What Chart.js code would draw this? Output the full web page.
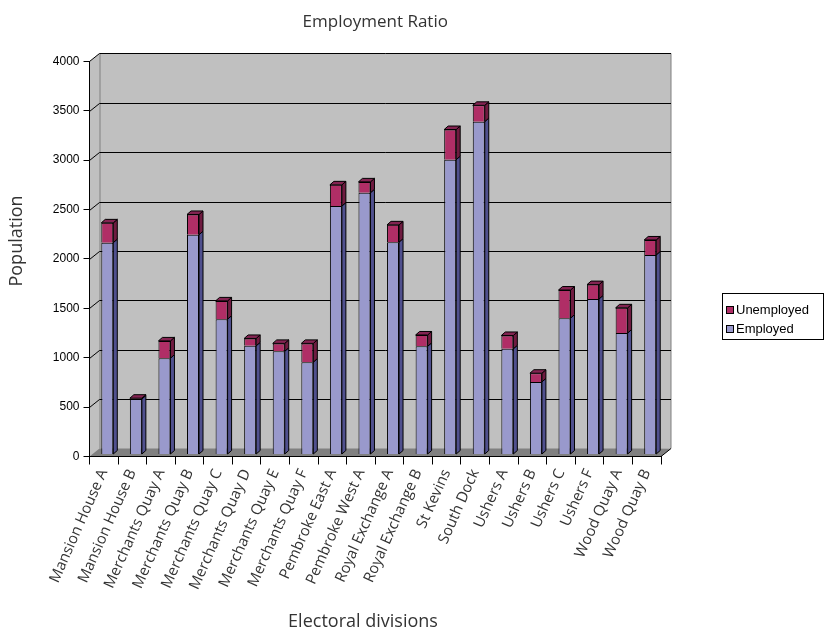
<!DOCTYPE html>
<html>
<head>
<meta charset="utf-8">
<title>Employment Ratio</title>
<script src="https://cdn.jsdelivr.net/npm/chart.js@4.4.0/dist/chart.umd.min.js"></script>
<style>
  html, body { margin: 0; padding: 0; background: #fff; }
  #wrap { width: 826px; height: 641px; }
</style>
</head>
<body>
<div id="wrap"><canvas id="chart" width="826" height="641"></canvas></div>
<script>
const divisions = [
  "Mansion House A", "Mansion House B", "Merchants Quay A", "Merchants Quay B",
  "Merchants Quay C", "Merchants Quay D", "Merchants Quay E", "Merchants Quay F",
  "Pembroke East A", "Pembroke West A", "Royal Exchange A", "Royal Exchange B",
  "St Kevins", "South Dock", "Ushers A", "Ushers B", "Ushers C", "Ushers F",
  "Wood Quay A", "Wood Quay B"
];
const employed = [2145, 562, 975, 2225, 1370, 1100, 1045, 935, 2515, 2650,
                  2150, 1095, 2985, 3370, 1070, 735, 1380, 1575, 1230, 2020];
const unemployed = [200, 8, 175, 205, 185, 75, 80, 190, 215, 110,
                    175, 115, 305, 165, 135, 88, 285, 145, 255, 152];
const popTicks = [0, 500, 1000, 1500, 2000, 2500, 3000, 3500, 4000];

// depth of the back wall and of each column (px)
const WALL_DX = 10, WALL_DY = -8;
const BAR_DX = 4, BAR_DY = -3.5;
const BAR_SHIFT_X = 3.5, BAR_SHIFT_Y = -2;

const colors = {
  employed: { front: "#9999cc", side: "#50508e", top: "#6e6eaa" },
  unemployed: { front: "#b02e66", side: "#6f1b40", top: "#842452" }
};

const room3d = {
  id: "room3d",
  beforeDraw(chart) {
    const ctx = chart.ctx;
    const a = chart.chartArea;
    const y = chart.scales.y;
    const l = a.left, r = a.right, b = a.bottom, t = a.top;
    ctx.save();
    // back wall and left side wall
    ctx.fillStyle = "#c0c0c0";
    ctx.beginPath();
    ctx.moveTo(l, t);
    ctx.lineTo(l + WALL_DX, t + WALL_DY);
    ctx.lineTo(r + WALL_DX, t + WALL_DY);
    ctx.lineTo(r + WALL_DX, b + WALL_DY);
    ctx.lineTo(l, b);
    ctx.closePath();
    ctx.fill();
    // floor
    ctx.fillStyle = "#808080";
    ctx.beginPath();
    ctx.moveTo(l, b);
    ctx.lineTo(l + WALL_DX, b + WALL_DY);
    ctx.lineTo(r + WALL_DX, b + WALL_DY);
    ctx.lineTo(r, b);
    ctx.closePath();
    ctx.fill();
    // wall edges
    ctx.strokeStyle = "#808080";
    ctx.lineWidth = 1;
    ctx.beginPath();
    ctx.moveTo(l + WALL_DX + 0.5, t + WALL_DY);
    ctx.lineTo(l + WALL_DX + 0.5, b + WALL_DY);
    ctx.moveTo(r + WALL_DX, t + WALL_DY);
    ctx.lineTo(r + WALL_DX, b + WALL_DY);
    ctx.stroke();
    // front edge of the floor on the right
    ctx.strokeStyle = "#000";
    ctx.beginPath();
    ctx.moveTo(r, b);
    ctx.lineTo(r + WALL_DX, b + WALL_DY);
    ctx.stroke();
    // gridlines across the side wall and back wall
    ctx.strokeStyle = "#000";
    for (const tk of y.ticks) {
      if (tk.value === 0) continue;
      const py = Math.round(y.getPixelForValue(tk.value)) + 0.5;
      ctx.beginPath();
      ctx.moveTo(l, py);
      ctx.lineTo(l + WALL_DX, py + WALL_DY);
      ctx.lineTo(r + WALL_DX, py + WALL_DY);
      ctx.stroke();
    }
    ctx.restore();
  },
  beforeDatasetsDraw(chart) {
    chart.ctx.save();
    chart.ctx.translate(BAR_SHIFT_X, BAR_SHIFT_Y);
  },
  afterDatasetsDraw(chart) {
    const ctx = chart.ctx;
    const last = chart.data.datasets.length - 1;
    chart.data.datasets.forEach((ds, di) => {
      const meta = chart.getDatasetMeta(di);
      meta.data.forEach(bar => {
        const p = bar.getProps(["x", "y", "base", "width"], true);
        const x1 = p.x + p.width / 2, x0 = p.x - p.width / 2;
        ctx.strokeStyle = "#000";
        ctx.lineWidth = 1;
        ctx.fillStyle = ds.sideColor;
        ctx.beginPath();
        ctx.moveTo(x1, p.y);
        ctx.lineTo(x1 + BAR_DX, p.y + BAR_DY);
        ctx.lineTo(x1 + BAR_DX, p.base + BAR_DY);
        ctx.lineTo(x1, p.base);
        ctx.closePath();
        ctx.fill();
        ctx.stroke();
        if (di === last) {
          ctx.fillStyle = ds.topColor;
          ctx.beginPath();
          ctx.moveTo(x0, p.y);
          ctx.lineTo(x0 + BAR_DX, p.y + BAR_DY);
          ctx.lineTo(x1 + BAR_DX, p.y + BAR_DY);
          ctx.lineTo(x1, p.y);
          ctx.closePath();
          ctx.fill();
          ctx.stroke();
        }
      });
    });
    ctx.restore();
  },
  afterDraw(chart) {
    const ctx = chart.ctx;
    ctx.save();
    // axis titles
    ctx.fillStyle = "#333";
    ctx.font = "18px 'Open Sans'";
    ctx.textAlign = "center";
    ctx.textBaseline = "middle";
    ctx.fillText("Electoral divisions", 363, 622);
    ctx.translate(17, 241);
    ctx.rotate(-Math.PI / 2);
    ctx.fillText("Population", 0, 0);
    ctx.restore();

    // legend box, top series listed first
    ctx.save();
    ctx.strokeStyle = "#000";
    ctx.lineWidth = 1;
    ctx.strokeRect(722.5, 293.5, 101, 46);
    ctx.font = "13px 'Liberation Sans'";
    ctx.textAlign = "left";
    ctx.textBaseline = "middle";
    const items = chart.data.datasets.slice().reverse();
    items.forEach((ds, i) => {
      const cy = 310 + i * 19;
      ctx.fillStyle = ds.backgroundColor;
      ctx.fillRect(726.5, cy - 3.5, 7, 7);
      ctx.strokeRect(726.5, cy - 3.5, 7, 7);
      ctx.fillStyle = "#000";
      ctx.fillText(ds.label, 736, cy);
    });
    ctx.restore();
  }
};

new Chart(document.getElementById("chart"), {
  type: "bar",
  data: {
    labels: divisions,
    datasets: [
      {
        label: "Employed",
        data: employed,
        backgroundColor: colors.employed.front,
        sideColor: colors.employed.side,
        topColor: colors.employed.top,
        borderColor: "#000",
        borderWidth: 1,
        categoryPercentage: 0.42,
        barPercentage: 1
      },
      {
        label: "Unemployed",
        data: unemployed,
        backgroundColor: colors.unemployed.front,
        sideColor: colors.unemployed.side,
        topColor: colors.unemployed.top,
        borderColor: "#000",
        borderWidth: 1,
        categoryPercentage: 0.42,
        barPercentage: 1
      }
    ]
  },
  options: {
    responsive: false,
    animation: false,
    events: [],
    layout: { padding: { left: 0, right: 165, top: 0, bottom: 0 } },
    plugins: {
      legend: { display: false },
      tooltip: { enabled: false },
      title: {
        display: true,
        text: "Employment Ratio",
        fullSize: false,
        color: "#333",
        font: { family: "'Open Sans'", size: 17, weight: "normal" },
        padding: { top: 12, bottom: 29 }
      }
    },
    scales: {
      x: {
        stacked: true,
        grid: { drawOnChartArea: false, offset: true, tickLength: 8, tickColor: "#000" },
        border: { color: "#000" },
        ticks: {
          color: "#333",
          autoSkip: false,
          minRotation: 66,
          maxRotation: 66,
          padding: 2,
          font: { family: "'Open Sans'", size: 15 }
        },
        afterFit: s => { s.height = 184.5; }
      },
      y: {
        stacked: true,
        min: popTicks[0],
        max: popTicks[popTicks.length - 1],
        afterBuildTicks: s => { s.ticks = popTicks.map(v => ({ value: v })); },
        grid: { drawOnChartArea: false, tickLength: 6, tickColor: "#000" },
        border: { color: "#000" },
        ticks: {
          color: "#000",
          padding: 4,
          font: { family: "'Liberation Sans'", size: 12 },
          callback: v => String(v)
        },
        afterFit: s => { s.width = 89.5; }
      }
    }
  },
  plugins: [room3d]
});
</script>
</body>
</html>
